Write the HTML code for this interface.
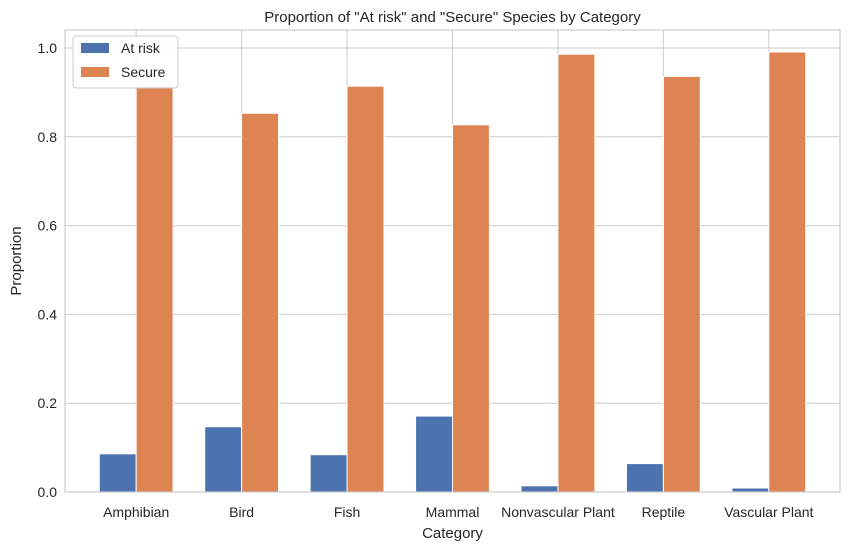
<!DOCTYPE html>
<html><head><meta charset="utf-8">
<style>
body{margin:0;background:#fff;}
svg text{font-family:"Liberation Sans","DejaVu Sans",sans-serif;fill:#262626;}
</style></head>
<body>
<svg id="chart" width="850" height="550" xmlns="http://www.w3.org/2000/svg">
<rect x="0" y="0" width="850" height="550" fill="#fff"/>
<g id="grid"></g>
<g id="bars"></g>
<g id="axes"></g>
</svg>
<script>
const categories=["Amphibian","Bird","Fish","Mammal","Nonvascular Plant","Reptile","Vascular Plant"];
const atRisk=[0.086,0.147,0.084,0.171,0.014,0.064,0.009];
const secure=[0.914,0.853,0.914,0.827,0.986,0.936,0.991];
const yTicks=[0,0.2,0.4,0.6,0.8,1.0];
const yTickLabels=["0.0","0.2","0.4","0.6","0.8","1.0"];

const L=65,R=840,T=30,B=492;
const ns="http://www.w3.org/2000/svg";
const xMin=-0.675,xMax=categories.length-1+0.675;
const x=v=>L+(v-xMin)/(xMax-xMin)*(R-L);
const y=v=>B-v/1.0*444;
const bw=0.35;
function mk(tag,attrs,parent){const e=document.createElementNS(ns,tag);for(const k in attrs)e.setAttribute(k,attrs[k]);parent.appendChild(e);return e;}
const grid=document.getElementById('grid'),bars=document.getElementById('bars'),axes=document.getElementById('axes');
yTicks.forEach((t,i)=>{
  const g=mk('line',{x1:L,x2:R,y1:y(t),y2:y(t),stroke:'#cccccc','stroke-width':1},grid);
  
  
  const tx=mk('text',{x:L-8,y:y(t)+5,'text-anchor':'end','font-size':14},axes);
  tx.textContent=yTickLabels[i];
  
  
});
categories.forEach((c,i)=>{
  const g=mk('line',{x1:x(i),x2:x(i),y1:T,y2:B,stroke:'#cccccc','stroke-width':1},grid);
  
  
  const a=mk('rect',{x:x(i-bw),y:y(atRisk[i]),width:x(bw)-x(0),height:y(0)-y(atRisk[i]),fill:'#4c72b0',stroke:'#fff','stroke-width':1},bars);
  
  
  const s=mk('rect',{x:x(i),y:y(secure[i]),width:x(bw)-x(0),height:y(0)-y(secure[i]),fill:'#dd8452',stroke:'#fff','stroke-width':1},bars);
  
  
  const tx=mk('text',{x:x(i),y:B+25,'text-anchor':'middle','font-size':14},axes);
  tx.textContent=c;
  
  
});
const fr=mk('rect',{x:L,y:T,width:R-L,height:B-T,fill:'none',stroke:'#cccccc','stroke-width':1.2},axes);


const title=mk('text',{x:(L+R)/2,y:22,'text-anchor':'middle','font-size':15},axes);
title.textContent='Proportion of "At risk" and "Secure" Species by Category';


const xl=mk('text',{x:(L+R)/2,y:538,'text-anchor':'middle','font-size':15},axes);
xl.textContent='Category';


const yl=mk('text',{x:21,y:(T+B)/2,'text-anchor':'middle','font-size':15,transform:`rotate(-90 21 ${(T+B)/2})`},axes);
yl.textContent='Proportion';


const lg=mk('g',{},axes);


mk('rect',{x:73,y:36,width:105,height:52,rx:3,fill:'#fff','fill-opacity':0.85,stroke:'#cccccc'},lg);
[["At risk","#4c72b0",48],["Secure","#dd8452",72]].forEach(([n,col,yy])=>{
  const e=mk('g',{},lg);
  
  
  mk('rect',{x:81,y:yy-5,width:28,height:10,fill:col},e);
  const t=mk('text',{x:121,y:yy+5,'font-size':14},e);t.textContent=n;
});
</script>
</body></html>
